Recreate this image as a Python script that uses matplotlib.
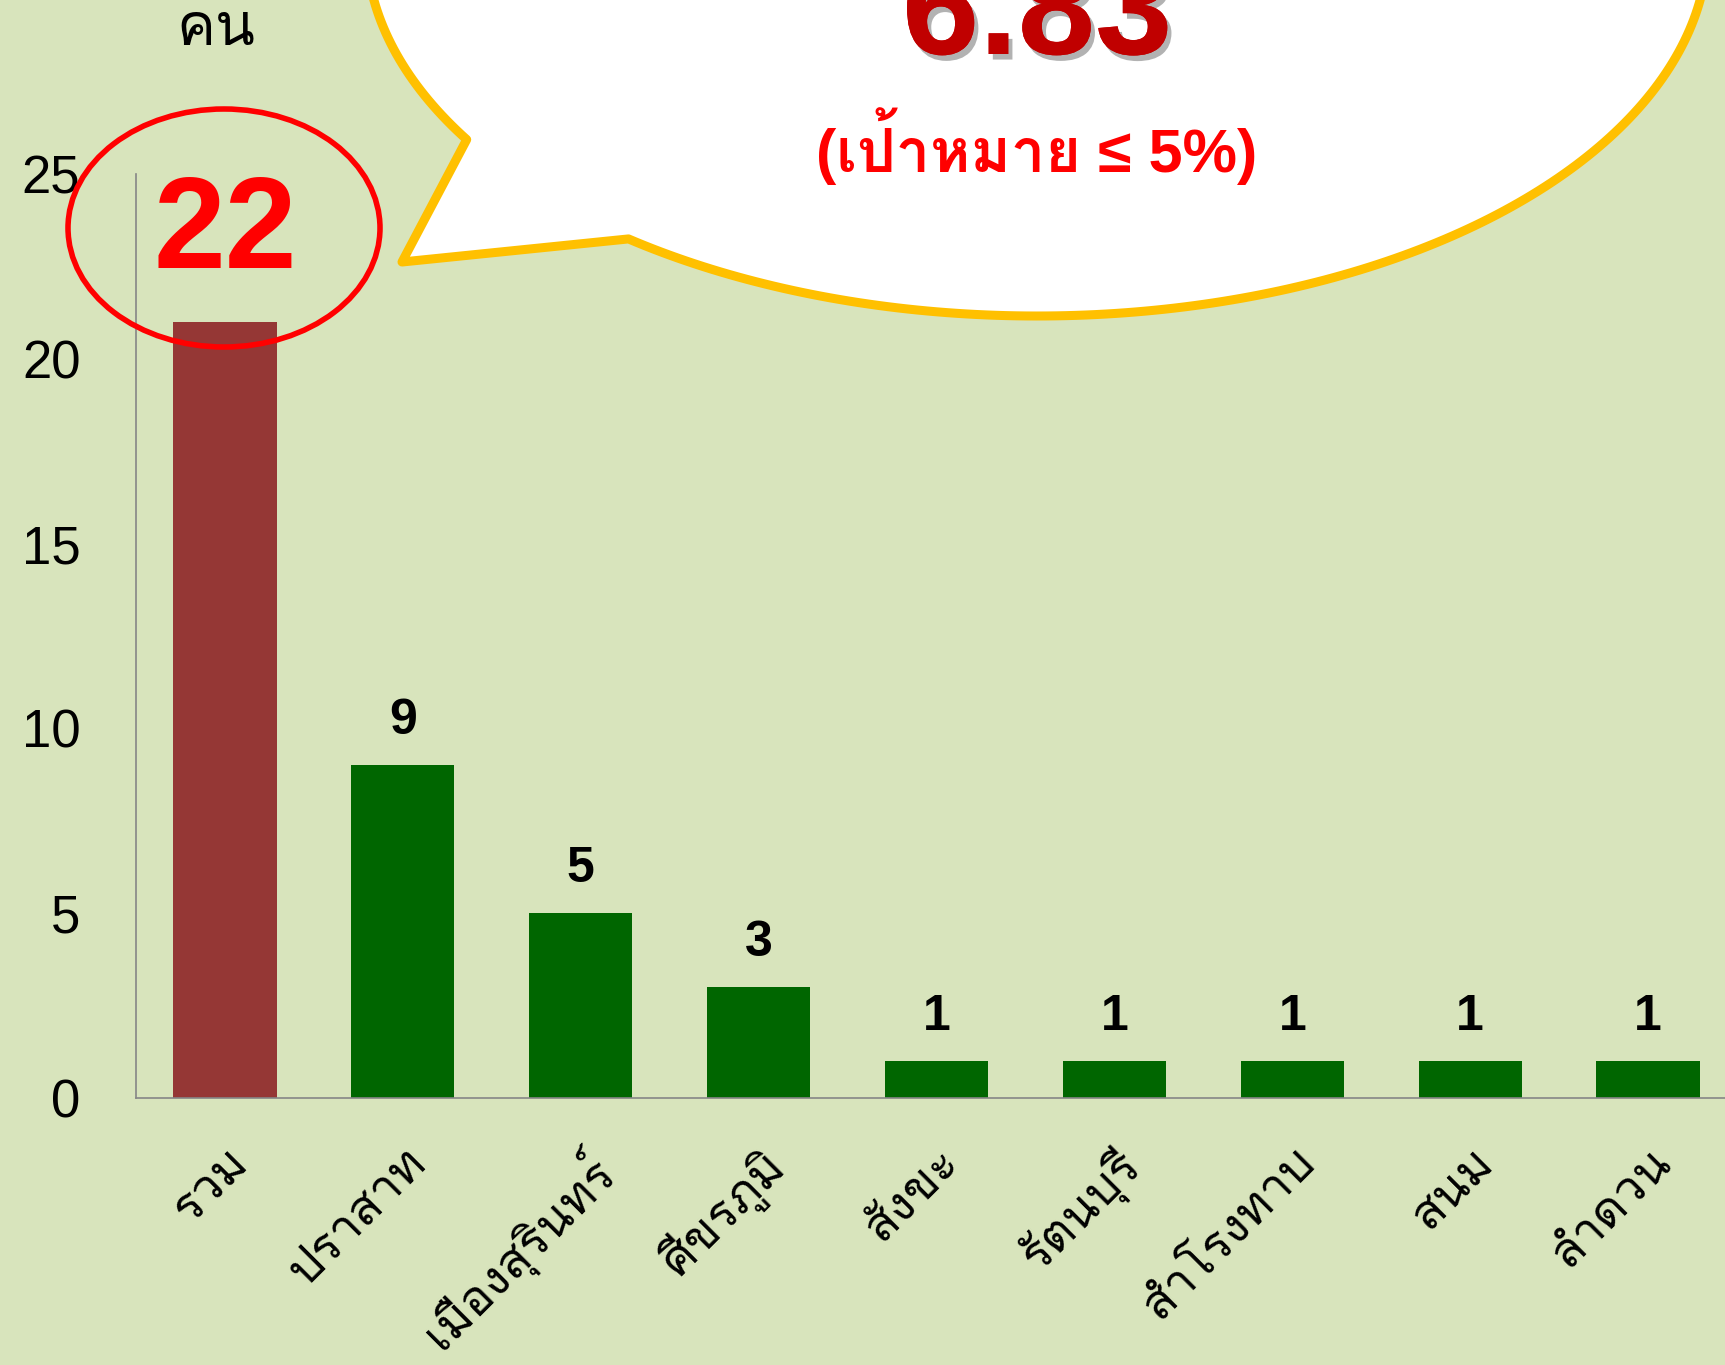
import numpy as np
import matplotlib
matplotlib.use("Agg")
import matplotlib.pyplot as plt
from matplotlib import font_manager as fm
from matplotlib.patches import Ellipse, Polygon
import matplotlib.patheffects as pe

# ---------------- data ----------------
categories = ["รวม", "ปราสาท", "เมืองสุรินทร์", "ศีขรภูมิ", "สังขะ", "รัตนบุรี", "สำโรงทาบ", "สนม", "ลำดวน"]
values = [21, 9, 5, 3, 1, 1, 1, 1, 1]
value_labels = ["", "9", "5", "3", "1", "1", "1", "1", "1"]
total_label = "22"
y_ticks = [0, 5, 10, 15, 20, 25]
y_unit = "คน"
rate_text = "6.83"
target_text = "(เป้าหมาย ≤ 5%)"

# ---------------- fonts ----------------
def find_thai_fonts():
    found = []
    try:
        from fontTools.ttLib import TTFont
    except Exception:
        return found
    for f in fm.fontManager.ttflist:
        if f.name in found:
            continue
        try:
            tt = TTFont(f.fname, fontNumber=0, lazy=True)
            cmap = tt.getBestCmap()
            if cmap and 0x0E04 in cmap and 0x0E19 in cmap and 0x0E32 in cmap:
                found.append(f.name)
        except Exception:
            pass
    return found

thai = find_thai_fonts()
fam = ["Liberation Sans"] + thai + ["DejaVu Sans"]
plt.rcParams["font.family"] = fam

BG = "#D8E4BC"
GREEN = "#006600"
DARKRED = "#953735"
AXGRAY = "#868686"

W, H = 1725, 1365
fig = plt.figure(figsize=(W / 100, H / 100), dpi=100, facecolor=BG)

ax = fig.add_axes([136 / W, 267 / H, (1737 - 136) / W, (1098 - 174) / H])
ax.set_facecolor(BG)
x = np.arange(len(categories))
colors = [DARKRED] + [GREEN] * (len(categories) - 1)
ax.bar(x, values, width=0.58, color=colors, zorder=2)
ax.set_xlim(-0.5, len(categories) - 0.5)
ax.set_ylim(0, 25)
ax.set_yticks(y_ticks)
ax.set_yticklabels([str(v) for v in y_ticks], fontsize=38)
ax.set_xticks(x)
ax.set_xticklabels(categories, rotation=45, ha="right", va="top",
                   rotation_mode="anchor", fontsize=35)
ax.tick_params(axis="y", length=0, pad=40)
ax.tick_params(axis="x", length=0, pad=30)
for s in ["top", "right"]:
    ax.spines[s].set_visible(False)
for s in ["left", "bottom"]:
    ax.spines[s].set_color(AXGRAY)
    ax.spines[s].set_linewidth(1.2)

for xi, v, lab in zip(x, values, value_labels):
    if lab:
        ax.annotate(lab, (xi, v), xytext=(0, 32), textcoords="offset points",
                    ha="center", va="center", fontsize=36, fontweight="bold",
                    color="black", zorder=3)

# total label with red circle
ax.text(0, 22.45, total_label, ha="center", va="baseline", fontsize=93,
        fontweight="bold", color="#FF0000", zorder=4)

# overlay axes in pixel coordinates (y down)
ov = fig.add_axes([0, 0, 1, 1], facecolor="none")
ov.set_xlim(0, W)
ov.set_ylim(H, 0)
ov.axis("off")

ov.add_patch(Ellipse((224, 228), 2 * 156, 2 * 119, fill=False,
                     edgecolor="#FF0000", lw=4, zorder=5))

# callout bubble
cx, cy, a, b = 1037, -57, 671, 373
t = np.radians(np.linspace(127.5, -211.8, 400))
pts = np.column_stack([cx + a * np.cos(t), cy + b * np.sin(t)])
tip = np.array([[402, 262]])
poly = np.vstack([pts, tip])
ov.add_patch(Polygon(poly, closed=True, facecolor="white", edgecolor="#FFC000",
                     lw=6.5, joinstyle="round", zorder=6))

ov.text(1037, 54, rate_text, ha="center", va="baseline", fontsize=100,
        fontweight="bold", color="#C00000", zorder=7,
        path_effects=[pe.withSimplePatchShadow(offset=(3, -4), shadow_rgbFace="#555555", alpha=0.45),
                      pe.Normal()])
ov.text(1037, 146, target_text, ha="center", va="center", fontsize=44,
        fontweight="bold", color="#FF0000", zorder=7)

# unit label
ov.text(216, 30, y_unit, ha="center", va="center", fontsize=42, color="black")

fig.savefig("out.png", dpi=100, facecolor=BG)
